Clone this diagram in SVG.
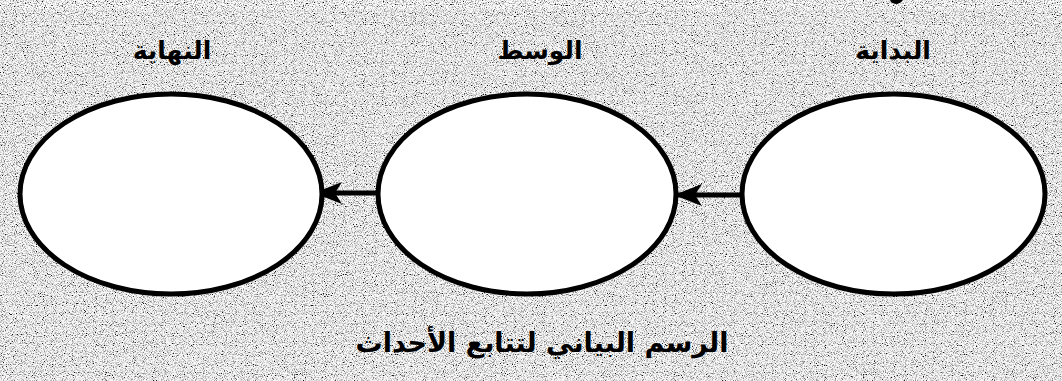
<svg xmlns="http://www.w3.org/2000/svg" width="1062" height="381" viewBox="0 0 1062 381">
  <style>
    .node ellipse { fill: #ffffff; stroke: #000000; stroke-width: 5; }
    .label { font-family: "DejaVu Sans", sans-serif; font-weight: bold; fill: #000000; text-anchor: middle; direction: rtl; }
    .conn { stroke: #000000; stroke-width: 5; fill: none; }
  </style>
  <defs>
    <filter id="grain" filterUnits="userSpaceOnUse" x="0" y="0" width="1062" height="381">
      <feTurbulence type="fractalNoise" baseFrequency="0.9" numOctaves="2" seed="7" result="n"/>
      <feColorMatrix in="n" type="matrix" values="3 0 0 0 -0.68  3 0 0 0 -0.68  3 0 0 0 -0.68  0 0 0 0 1"/>
    </filter>
    <marker id="arrow" markerUnits="userSpaceOnUse" markerWidth="30" markerHeight="24" refX="28" refY="11" orient="auto" overflow="visible">
      <path d="M28,11 L0,0 L7,11 L0,22 Z" fill="#000000"/>
    </marker>
  </defs>

  <rect x="0" y="0" width="1062" height="381" fill="#ffffff"/>
  <rect x="0" y="9" width="1062" height="372" fill="#c6c6c6"/>
  <rect x="0" y="9" width="1062" height="372" filter="url(#grain)" opacity="0.9"/>
  <path d="M890,0 L903,0 Q900,4 896,4 Q891,3 890,0 Z" fill="#000000"/>

  <g id="connectors">
    <line class="conn" x1="745" y1="195" x2="674" y2="195" marker-end="url(#arrow)"/>
    <line class="conn" x1="390" y1="193" x2="314" y2="193" marker-end="url(#arrow)"/>
  </g>

  <g id="node-end" class="node">
    <ellipse cx="171" cy="194" rx="151" ry="100"/>
    <text class="label" x="172" y="59" font-size="25">النهاية</text>
  </g>
  <g id="node-middle" class="node">
    <ellipse cx="527" cy="194" rx="149" ry="100"/>
    <text class="label" x="540" y="59" font-size="25">الوسط</text>
  </g>
  <g id="node-start" class="node">
    <ellipse cx="893.5" cy="194" rx="151.5" ry="100"/>
    <text class="label" x="893" y="59" font-size="25">البداية</text>
  </g>

  <text id="caption" class="label" x="542" y="352" font-size="27">الرسم البياني لتتابع الأحداث</text>
</svg>
